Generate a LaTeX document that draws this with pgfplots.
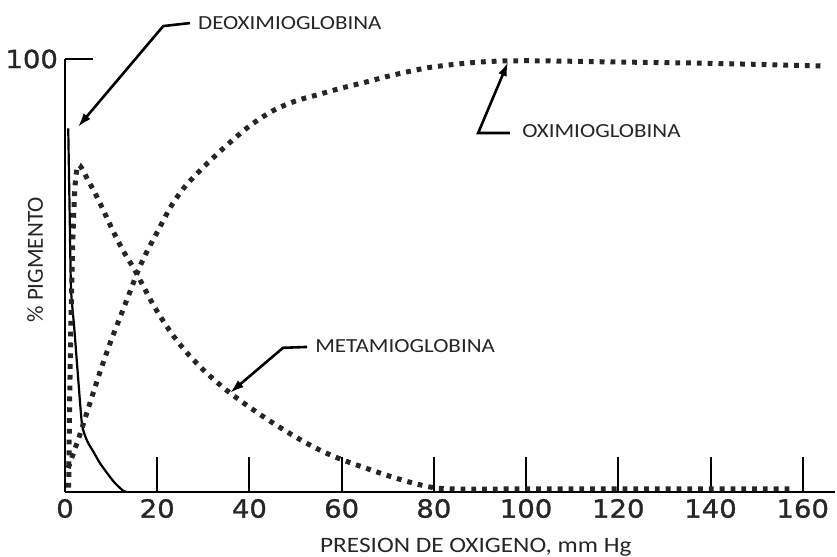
\documentclass[border=0pt]{standalone}
\usepackage{pgfplots}
\pgfplotsset{compat=1.18}
\usepackage{fontspec}
\setmainfont{Carlito}
\newfontfamily\labfont[FakeStretch=1.15]{Carlito}
\newfontfamily\numfont[FakeStretch=1.1, FakeBold=1.2]{DejaVu Sans}
\usetikzlibrary{arrows.meta}

\pgfplotsset{
  dotcurve/.style={black!85, line width=2.5pt, dash pattern=on 2.4pt off 3pt, smooth, tension=0.5, mark=none},
}
\tikzset{
  leader/.style={black, line width=1.3pt, {Latex[length=7pt,width=4.5pt]}-},
  curvename/.style={anchor=west, inner sep=0pt, font=\labfont\fontsize{10}{11}\selectfont, text=black!85},
}

\begin{document}
\begin{tikzpicture}
\path[use as bounding box] (-32.5pt,-32.5pt) rectangle (386pt,246pt);
\begin{axis}[
  at={(0,0)}, anchor=south west,
  scale only axis, width=385pt, height=216.5pt,
  xmin=0, xmax=167, ymin=0, ymax=100,
  axis x line=bottom, axis y line=left,
  axis line style={-, line width=1.2pt},
  xtick={0,20,...,160}, ytick={100},
  tick align=inside,
  xtick style={line width=1pt, black, /pgfplots/major tick length=17.5pt},
  ytick style={line width=1.2pt, black, /pgfplots/major tick length=14pt},
  /pgf/number format/assume math mode=true,
  ticklabel style={font=\numfont\fontsize{12.5}{13}\selectfont, text=black!85},
  clip=false,
]
% deoximioglobina
\addplot[black, line width=1.1pt, smooth, tension=0.35] coordinates {
  (0.7,84) (1.0,65) (1.3,47) (2.0,38) (2.8,27) (3.7,15.5) (4.8,11.8)
  (6.1,9.4) (7.5,6.8) (9.1,4.4) (10.8,2.1) (12.6,0.3) (13.5,0)
};
% metamioglobina
\addplot[dotcurve] coordinates {
  (0.8,1) (1.0,20) (1.3,40) (1.7,58) (2.2,71) (3,75.5) (5,72) (7,68)
  (9,63.5) (11,59) (13,55) (15,51.5) (17,47.5) (19,43.5) (21,40)
  (23,36.8) (25,34) (27,31.5) (30,28.2) (33,25.3) (36,22.7) (40,19.6)
  (44,16.7) (48,14) (52,11.5) (56,9.3) (60,7.5) (65,5.6) (70,3.8)
  (75,2.2) (80,1.0) (85,0.7) (100,0.7) (120,0.7) (140,0.7) (158,0.7)
};
% oximioglobina
\addplot[dotcurve] coordinates {
  (0.7,5.5) (2,9.5) (3,12.5) (4.5,17.5) (6,22.5) (8,29) (10,35)
  (12,40.5) (14,46) (16,51.5) (18,56) (20,60) (23,66) (26,70.5)
  (30,75) (35,80) (40,84.5) (45,88) (50,90.3) (55,91.8) (60,93.3)
  (65,94.6) (70,96) (75,97.2) (80,98.2) (90,99.3) (100,99.6)
  (120,99.3) (140,99) (164,98.4)
};

% leader lines and names
\draw[leader] (axis cs:2.8,84.3) -- (axis cs:21.3,107.6) -- (axis cs:27.1,108.3);
\node[curvename] at (axis cs:28.8,108.3) {DEOXIMIOGLOBINA};
\draw[leader] (axis cs:96.1,99.3) -- (axis cs:89.6,82.9) -- (axis cs:96.5,82.9);
\node[curvename] at (axis cs:99.1,83.4) {OXIMIOGLOBINA};
\draw[leader] (axis cs:35.8,22.9) -- (axis cs:47.3,33.3) -- (axis cs:52.5,33.5);
\node[curvename] at (axis cs:54.2,33.7) {METAMIOGLOBINA};

% axis names
\node[font=\labfont\fontsize{11}{12}\selectfont, text=black!85]
  at (axis cs:89.1,-12.7) {PRESION DE OXIGENO, mm Hg};
\node[rotate=90, font=\fontsize{11.5}{12}\selectfont, text=black!85]
  at (axis cs:-6.5,53.6) {\% PIGMENTO};
\end{axis}
\end{tikzpicture}
\end{document}
